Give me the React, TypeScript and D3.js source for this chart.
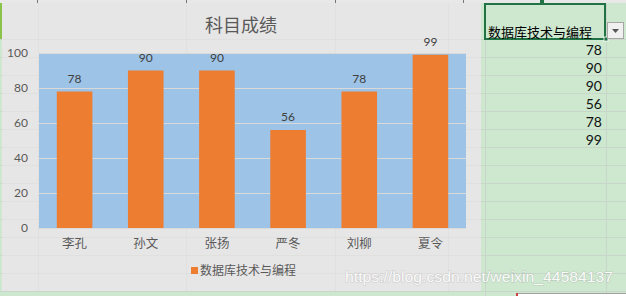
import React from "react";
import * as d3 from "d3";

const students = ["李孔", "孙文", "张扬", "严冬", "刘柳", "夏令"];
const scores = [78, 90, 90, 56, 78, 99];
const yTicks = [0, 20, 40, 60, 80, 100];
const seriesName = "数据库技术与编程";
const chartTitle = "科目成绩";

const W = 626;
const H = 296;
const CJK = "'Noto Sans CJK SC', 'Noto Sans', sans-serif";
const NUM = "Lato, 'Noto Sans', sans-serif";

export default function App() {
  const x = d3
    .scaleBand<string>()
    .domain(students)
    .range([39, 466])
    .paddingInner(0.5)
    .paddingOuter(0.25);
  const y = d3.scaleLinear().domain([0, 100]).range([228, 53]);

  const rowLines = d3.range(0, 15).map((k) => 39 + 18 * k);
  const cellRows = scores.map((v, i) => ({ v, yc: 48 + 18 * i }));

  return (
    <svg
      width={W}
      height={H}
      style={{ position: "fixed", left: 0, top: 0, display: "block" }}
    >
      {/* spreadsheet background */}
      <rect x={0} y={0} width={W} height={H} fill="#cde8cf" />
      {rowLines.map((ly) => (
        <line key={"r" + ly} x1={0} x2={W} y1={ly + 0.5} y2={ly + 0.5} stroke="#c9d6ca" />
      ))}
      {[485, 606].map((lx) => (
        <line key={"c" + lx} x1={lx + 0.5} x2={lx + 0.5} y1={0} y2={H} stroke="#c9d6ca" />
      ))}
      {/* top column header strip */}
      <rect x={0} y={0} width={W} height={3} fill="#e8e8e8" />
      {[37, 186, 335, 463].map((lx) => (
        <line key={"h" + lx} x1={lx + 0.5} x2={lx + 0.5} y1={0} y2={3} stroke="#777" />
      ))}
      <rect x={540} y={0} width={4} height={3} fill="#217346" />
      {/* left strip */}
      <rect x={0} y={3} width={2} height={36} fill="#8bc34a" />

      {/* chart area */}
      <rect x={2} y={3} width={479} height={288} fill="#e7e6e6" />
      {[38, 186, 335, 448].map((lx) => (
        <line key={"g" + lx} x1={lx + 0.5} x2={lx + 0.5} y1={3} y2={291} stroke="#e0e0df" />
      ))}
      {rowLines.filter((ly) => ly < 290).map((ly) => (
        <line key={"gr" + ly} x1={2} x2={481} y1={ly + 0.5} y2={ly + 0.5} stroke="#e0e0df" />
      ))}

      {/* title */}
      <text x={241} y={32} textAnchor="middle" fontFamily={CJK} fontSize={18} fill="#595959">
        {chartTitle}
      </text>

      {/* plot area */}
      <rect x={39} y={53} width={427} height={175} fill="#9dc3e6" />
      {yTicks
        .filter((t) => t > 0)
        .map((t) => (
          <line
            key={"gl" + t}
            x1={39}
            x2={466}
            y1={Math.round(y(t)) + 0.5}
            y2={Math.round(y(t)) + 0.5}
            stroke="#d9d9d9"
          />
        ))}
      <line x1={39} x2={466} y1={228.5} y2={228.5} stroke="#d9d9d9" />

      {/* y tick labels */}
      {yTicks.map((t) => (
        <text
          key={"yt" + t}
          x={28}
          y={y(t)}
          dy="0.35em"
          textAnchor="end"
          fontFamily={NUM}
          fontSize={12}
          fill="#595959"
        >
          {t}
        </text>
      ))}

      {/* bars */}
      {students.map((s, i) => (
        <rect
          key={"b" + s}
          x={x(s)}
          y={y(scores[i])}
          width={x.bandwidth()}
          height={y(0) - y(scores[i])}
          fill="#ed7d31"
        />
      ))}
      {/* data labels */}
      {students.map((s, i) => (
        <text
          key={"dl" + s}
          x={(x(s) as number) + x.bandwidth() / 2}
          y={y(scores[i]) - 13}
          dy="0.35em"
          textAnchor="middle"
          fontFamily={NUM}
          fontSize={12}
          fill="#404040"
        >
          {scores[i]}
        </text>
      ))}
      {/* x labels */}
      {students.map((s) => (
        <text
          key={"xl" + s}
          x={(x(s) as number) + x.bandwidth() / 2}
          y={244}
          dy="0.35em"
          textAnchor="middle"
          fontFamily={CJK}
          fontSize={12.5}
          fill="#595959"
        >
          {s}
        </text>
      ))}

      {/* legend */}
      <rect x={191} y={267} width={7} height={7} fill="#ed7d31" />
      <text x={200} y={271} dy="0.35em" fontFamily={CJK} fontSize={12} fill="#595959">
        {seriesName}
      </text>

      {/* header cell */}
      <rect x={485} y={4} width={120} height={35} fill="#cde8cf" stroke="#217346" strokeWidth={2} />
      <text x={488} y={32} dy="0.35em" fontFamily={CJK} fontSize={13} fill="#000">
        {seriesName}
      </text>
      <rect x={604} y={37} width={4} height={4} fill="#217346" stroke="#fff" strokeWidth={0.8} />
      <rect x={607.5} y={22.5} width={16} height={16} fill="#f0f0f0" stroke="#a6a6a6" />
      <path d="M612,29 L619,29 L615.5,33 Z" fill="#555" />

      {/* cell values */}
      {cellRows.map((r, i) => (
        <text
          key={"cv" + i}
          x={602}
          y={r.yc + 2}
          dy="0.35em"
          textAnchor="end"
          fontFamily={NUM}
          fontSize={14}
          fill="#111"
        >
          {r.v}
        </text>
      ))}

      {/* bottom-right box */}
      <rect x={516.5} y={293.5} width={112} height={5} fill="#fff" stroke="#a0a0a0" />
      <rect x={516} y={293} width={2} height={3} fill="#d04040" />

      {/* watermark */}
      <text
        x={345}
        y={277}
        dy="0.35em"
        fontFamily="'Liberation Sans', Arial, sans-serif"
        fontSize={15}
        textLength={268}
        lengthAdjust="spacingAndGlyphs"
        fill="#ffffff"
        fillOpacity={0.92}
        stroke="#9a9a9a"
        strokeOpacity={0.35}
        strokeWidth={1.2}
        style={{ paintOrder: "stroke" }}
      >
        https://blog.csdn.net/weixin_44584137
      </text>
    </svg>
  );
}
